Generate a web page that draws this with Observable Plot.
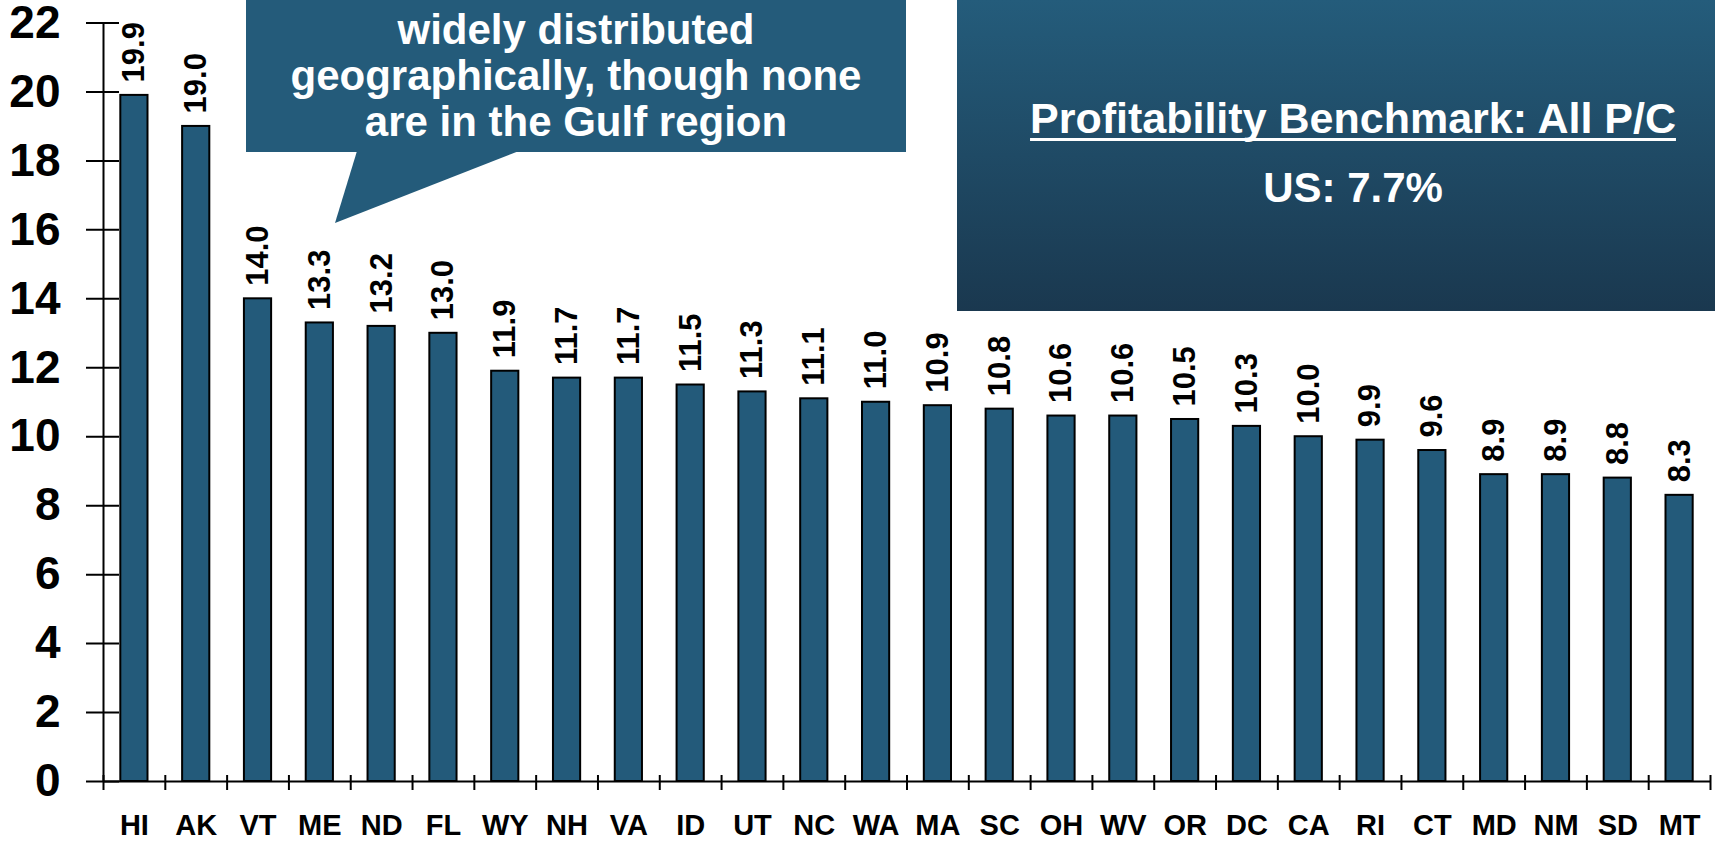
<!DOCTYPE html>
<html>
<head>
<meta charset="utf-8">
<script src="https://cdn.jsdelivr.net/npm/d3@7"></script>
<script src="https://cdn.jsdelivr.net/npm/@observablehq/plot@0.6"></script>
<style>
  html, body { margin: 0; padding: 0; background: #fff; }
  #wrap { position: relative; width: 1715px; height: 842px; overflow: hidden; background: #fff; }
  #wrap > svg { position: absolute; left: 0; top: 0; }
  #overlay { position: absolute; left: 0; top: 0; pointer-events: none; }
</style>
</head>
<body>
<div id="wrap"></div>
<script>
// ---- data ----
const states = ["HI","AK","VT","ME","ND","FL","WY","NH","VA","ID","UT","NC","WA","MA","SC","OH","WV","OR","DC","CA","RI","CT","MD","NM","SD","MT"];
const values = [19.9,19.0,14.0,13.3,13.2,13.0,11.9,11.7,11.7,11.5,11.3,11.1,11.0,10.9,10.8,10.6,10.6,10.5,10.3,10.0,9.9,9.6,8.9,8.9,8.8,8.3];
const yTicks = [0,2,4,6,8,10,12,14,16,18,20,22];
const calloutLines = ["widely distributed", "geographically, though none", "are in the Gulf region"];
const benchmarkTitle = "Profitability Benchmark: All P/C";
const benchmarkValue = "US: 7.7%";

const data = states.map((s, i) => ({state: s, index: i, value: values[i]}));
const fmt = d3.format(".1f");
const barColor = "#235a7a";
const font = "'Liberation Sans', Arial, Helvetica, sans-serif";
const pad = 0.28;

const chart = Plot.plot({
  width: 1715,
  height: 842,
  marginLeft: 103,
  marginRight: 5,
  marginTop: 22.5,
  marginBottom: 61,
  style: {fontFamily: font, background: "white", color: "black"},
  x: {type: "linear", domain: [0, states.length], axis: null},
  y: {domain: [0, 22], axis: null},
  marks: [
    Plot.rectY(data, {x1: d => d.index + pad, x2: d => d.index + 1 - pad, y1: 0, y2: "value", fill: barColor, stroke: "black", strokeWidth: 2}),
    Plot.text(data, {x: d => d.index + 0.5, y: "value", text: d => fmt(d.value), rotate: -90, textAnchor: "start", dy: -13, fontSize: 31, fontWeight: "bold", fill: "black"}),
    Plot.ruleY([0], {stroke: "black", strokeWidth: 2}),
    Plot.ruleX([0], {stroke: "black", strokeWidth: 2}),
    // y ticks crossing the axis line
    Plot.axisY(yTicks, {fill: "none", stroke: "black", strokeWidth: 2, tickSize: 33, dx: 16, label: null}),
    // y tick labels
    Plot.axisY(yTicks, {stroke: "none", fill: "black", tickSize: 0, tickPadding: 43, fontSize: 46, fontWeight: "bold", label: null}),
    // x ticks at category boundaries
    Plot.axisX(d3.range(states.length + 1), {fill: "none", stroke: "black", strokeWidth: 2, tickSize: 15, dy: -6, label: null}),
    // x category labels
    Plot.axisX(d3.range(states.length).map(i => i + 0.5), {stroke: "none", fill: "black", tickSize: 0, tickPadding: 33, fontSize: 29, fontWeight: "bold", tickFormat: v => states[Math.floor(v)], label: null})
  ]
});
document.getElementById("wrap").appendChild(chart);

// ---- annotations (overlay) ----
const ns = "http://www.w3.org/2000/svg";
const ov = d3.select("#wrap").append("svg")
  .attr("id", "overlay").attr("width", 1715).attr("height", 842)
  .attr("xmlns", ns).style("font-family", font);

const grad = ov.append("defs").append("linearGradient")
  .attr("id", "bench").attr("x1", 0).attr("y1", 0).attr("x2", 0).attr("y2", 1);
grad.append("stop").attr("offset", "0%").attr("stop-color", "#245c7b");
grad.append("stop").attr("offset", "100%").attr("stop-color", "#1a384f");

// callout
ov.append("rect").attr("x", 246).attr("y", -60).attr("width", 660).attr("height", 212).attr("fill", "#245b7a");
ov.append("polygon").attr("points", "357,151 519,151 335,223").attr("fill", "#245b7a");
const baselines = [44, 90, 136];
calloutLines.forEach((t, i) => {
  ov.append("text").attr("x", 576).attr("y", baselines[i]).attr("text-anchor", "middle")
    .attr("fill", "white").attr("font-size", 42).attr("font-weight", "bold").text(t);
});

// benchmark box
ov.append("rect").attr("x", 957).attr("y", 0).attr("width", 758).attr("height", 311).attr("fill", "url(#bench)");
const title = ov.append("text").attr("x", 1353).attr("y", 133).attr("text-anchor", "middle")
  .attr("fill", "white").attr("font-size", 43).attr("font-weight", "bold").text(benchmarkTitle);
const bb = title.node().getBBox();
ov.append("line").attr("x1", bb.x).attr("x2", bb.x + bb.width).attr("y1", 139.5).attr("y2", 139.5)
  .attr("stroke", "white").attr("stroke-width", 3);
ov.append("text").attr("x", 1353).attr("y", 202).attr("text-anchor", "middle")
  .attr("fill", "white").attr("font-size", 42).attr("font-weight", "bold").text(benchmarkValue);
</script>
</body>
</html>
